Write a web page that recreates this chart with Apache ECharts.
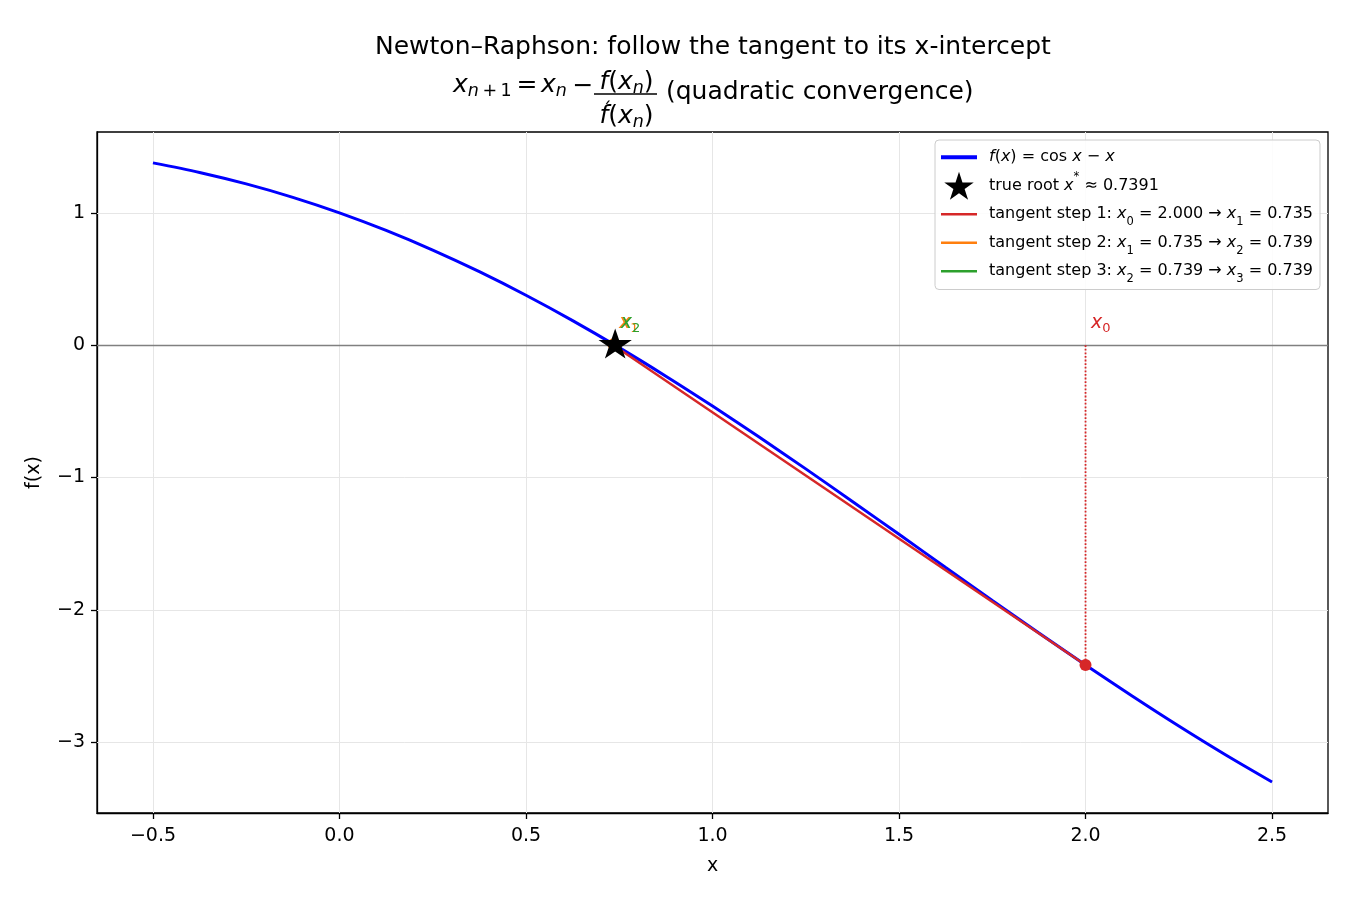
<!DOCTYPE html>
<html><head><meta charset="utf-8">
<script src="https://cdn.jsdelivr.net/npm/echarts@6/dist/echarts.min.js"></script>
<style>html,body{margin:0;padding:0;background:#fff}#c{width:1350px;height:900px}</style>
</head><body><div id="c"></div>
<script>
// ---- data ----
const curveX = [-0.5,-0.375,-0.25,-0.125,0,0.125,0.25,0.375,0.5,0.625,0.75,0.875,1.0,1.125,1.25,1.375,1.5,1.625,1.75,1.875,2.0,2.125,2.25,2.375,2.5];
const curveY = [1.3776,1.3055,1.2189,1.1172,1.0,0.8672,0.7189,0.5555,0.3776,0.1860,-0.0183,-0.2340,-0.4597,-0.6938,-0.9347,-1.1805,-1.4293,-1.6792,-1.9283,-2.1745,-2.4161,-2.6513,-2.8782,-3.0953,-3.3011];
const rootX = 0.7391;
const rootY = 0;
const stepX = [2.000, 0.7345, 0.7391];      // x_n
const stepF = [-2.4161, 0.0076, 0.0000];    // f(x_n)
const stepNext = [0.7345, 0.7391, 0.7391];  // x_{n+1}
const stepNames = [
  'tangent step 1: x0 = 2.000 → x1 = 0.735',
  'tangent step 2: x1 = 0.735 → x2 = 0.739',
  'tangent step 3: x2 = 0.739 → x3 = 0.739'
];
const stepRich = [
  '{t|tangent step 1: }{i|x}{s|0}{t| = 2.000 → }{i|x}{s|1}{t| = 0.735}',
  '{t|tangent step 2: }{i|x}{s|1}{t| = 0.735 → }{i|x}{s|2}{t| = 0.739}',
  '{t|tangent step 3: }{i|x}{s|2}{t| = 0.739 → }{i|x}{s|3}{t| = 0.739}'
];
const stepColors = ['#d62728', '#ff7f0e', '#2ca02c'];
const xTicks = [-0.5, 0, 0.5, 1.0, 1.5, 2.0, 2.5];
const yTicks = [-3, -2, -1, 0, 1];
const curveName = 'f(x) = cos x − x';
const rootName = 'true root x* ≈ 0.7391';

// ---- chart ----
const FONT = 'DejaVu Sans';
const STAR = 'path://M0,-1 L0.2245,-0.309 L0.951,-0.309 L0.363,0.118 L0.588,0.809 L0,0.382 L-0.588,0.809 L-0.363,0.118 L-0.951,-0.309 L-0.2245,-0.309 Z';
const minus = v => (v < 0 ? '−' : '') + Math.abs(v);

const series = [];
series.push({
  name: '_grid', type: 'line', data: [], silent: true, z: 1,
  markLine: {
    silent: true, symbol: ['none', 'none'], label: {show: false}, z: 1,
    lineStyle: {color: '#e6e6e6', width: 1, type: 'solid'},
    animation: false,
    data: xTicks.map(v => ({xAxis: v})).concat(yTicks.map(v => ({yAxis: v})))
  }
});
series.push({
  name: '_zero', type: 'line', data: [], silent: true, z: 2,
  markLine: {
    silent: true, symbol: ['none', 'none'], label: {show: false}, z: 2,
    lineStyle: {color: '#808080', width: 1.3, type: 'solid'},
    animation: false,
    data: [{yAxis: 0}]
  }
});
series.push({
  name: curveName, type: 'line', z: 3, showSymbol: false, symbol: 'none', smooth: 0.3,
  color: '#0000ff', lineStyle: {color: '#0000ff', width: 3},
  data: curveX.map((x, i) => [x, curveY[i]])
});
stepX.forEach((x, i) => {
  series.push({
    name: stepNames[i], type: 'line', z: 4, symbol: 'none', showSymbol: false,
    color: stepColors[i], lineStyle: {color: stepColors[i], width: 2.5},
    data: [[x, stepF[i]], [stepNext[i], 0]]
  });
  series.push({
    name: '_v' + i, type: 'line', z: 5, symbol: 'none', showSymbol: false,
    lineStyle: {color: stepColors[i], width: 1.8, type: 'dotted', opacity: 1},
    data: [[x, 0], [x, stepF[i]]]
  });
  series.push({
    name: '_d' + i, type: 'scatter', z: 6, symbolSize: 12,
    itemStyle: {color: stepColors[i], opacity: 1},
    data: [[x, stepF[i]]]
  });
  series.push({
    name: '_l' + i, type: 'scatter', z: 6, symbolSize: 1, itemStyle: {color: 'rgba(0,0,0,0)', opacity: 1},
    data: [[x, 0]],
    label: {
      show: true, position: [6, -34], color: stepColors[i], opacity: 1,
      formatter: '{i|x}{s|' + i + '}',
      rich: {
        i: {fontFamily: FONT, fontStyle: 'italic', fontSize: 19, lineHeight: 24, color: stepColors[i], opacity: 1},
        s: {fontFamily: FONT, fontSize: 13, lineHeight: 12, verticalAlign: 'bottom', color: stepColors[i], opacity: 1}
      }
    }
  });
});
series.push({
  name: rootName, type: 'scatter', z: 10, symbol: STAR, symbolSize: [33.3, 31.7], symbolOffset: [0, -1.7],
  symbolKeepAspect: true,
  itemStyle: {color: '#000', opacity: 1},
  data: [[rootX, rootY]]
});

const LH = 28.5;
const legendRich = {
  t: {fontFamily: FONT, fontSize: 16, lineHeight: LH, color: '#000'},
  i: {fontFamily: FONT, fontSize: 16, fontStyle: 'italic', lineHeight: LH, color: '#000'},
  s: {fontFamily: FONT, fontSize: 11.5, lineHeight: 19, verticalAlign: 'bottom', color: '#000'},
  sup: {fontFamily: FONT, fontSize: 11.5, lineHeight: 19, verticalAlign: 'top', color: '#000'}
};
const legendFmt = {};
legendFmt[curveName] = '{i|f}{t|(}{i|x}{t|) = cos }{i|x}{t| − }{i|x}';
legendFmt[rootName] = '{t|true root }{i|x}{sup|*}{t| ≈ 0.7391}';
stepNames.forEach((n, i) => legendFmt[n] = stepRich[i]);
const LINE4 = 'path://M0,0L36,0L36,4L0,4Z';
const LINE3 = 'path://M0,0L36,0L36,2.6L0,2.6Z';

const main = {fontFamily: FONT, fontSize: 25, lineHeight: 30, color: '#000'};
const mainI = Object.assign({}, main, {fontStyle: 'italic'});
const sub = {fontFamily: FONT, fontSize: 17.5, lineHeight: 14, verticalAlign: 'bottom', color: '#000'};
const subI = Object.assign({}, sub, {fontStyle: 'italic'});
const eqRich = {t: main, i: mainI, s: sub, si: subI};
function txt(x, y, text, align, extra) {
  return {type: 'text', x: x, y: y, style: Object.assign({text: text, rich: eqRich, fontFamily: FONT, fontSize: 25, fill: '#000',
    textAlign: align, textVerticalAlign: 'middle', align: align, verticalAlign: 'middle'}, extra || {})};
}

const option = {
  animation: false,
  backgroundColor: '#fff',
  title: {
    text: 'Newton–Raphson: follow the tangent to its x-intercept',
    left: 370, top: 30,
    textStyle: {fontFamily: FONT, fontSize: 25, fontWeight: 'normal', color: '#000'}
  },
  grid: {left: 97, right: 22, top: 132, bottom: 87, show: true, borderColor: '#000', borderWidth: 1.3, containLabel: false},
  legend: {
    orient: 'vertical', left: 935, top: 140, z: 100, zlevel: 0,
    data: [{name: curveName, icon: LINE4}, {name: rootName, icon: STAR}].concat(stepNames.map(n => ({name: n, icon: LINE3}))),
    itemWidth: 36, itemHeight: 28, itemGap: 0, symbolKeepAspect: true,
    padding: [3, 7, 4, 6],
    backgroundColor: 'rgba(255,255,255,0.85)', borderColor: '#cccccc', borderWidth: 1, borderRadius: 4,
    textStyle: {fontFamily: FONT, fontSize: 16, lineHeight: LH, color: '#000', padding: [0, 0, 0, 7], rich: legendRich},
    formatter: n => legendFmt[n]
  },
  xAxis: {
    type: 'value', min: -0.65, max: 2.65,
    name: 'x', nameLocation: 'middle', nameGap: 44,
    nameTextStyle: {fontFamily: FONT, fontSize: 19, color: '#000'},
    axisLine: {show: true, onZero: false, lineStyle: {color: '#000', width: 1.3}},
    axisTick: {show: true, length: 6, customValues: xTicks, lineStyle: {color: '#000', width: 1.3}},
    axisLabel: {customValues: xTicks, margin: 14, fontFamily: FONT, fontSize: 19, color: '#000',
      formatter: v => (v < 0 ? '−' : '') + Math.abs(v).toFixed(1)},
    splitLine: {show: false}
  },
  yAxis: {
    type: 'value', min: -3.535, max: 1.611,
    name: 'f(x)', nameLocation: 'middle', nameGap: 53, nameRotate: 90,
    nameTextStyle: {fontFamily: FONT, fontSize: 19, color: '#000'},
    axisLine: {show: true, onZero: false, lineStyle: {color: '#000', width: 1.3}},
    axisTick: {show: true, length: 6, customValues: yTicks, lineStyle: {color: '#000', width: 1.3}},
    axisLabel: {customValues: yTicks, margin: 12, fontFamily: FONT, fontSize: 19, color: '#000', formatter: minus},
    splitLine: {show: false}
  },
  graphic: [
    txt(453, 85.5, '{i|x}{si|n}{s|\u2009+\u20091}', 'left'),
    txt(527, 85.5, '=', 'center'),
    txt(541, 85.5, '{i|x}{si|n}', 'left'),
    txt(583, 86, '−', 'center'),
    txt(626.5, 82, '{i|f}{t|(}{i|x}{si|n}{t|)}', 'center'),
    {type: 'line', shape: {x1: 594, y1: 94, x2: 657, y2: 94}, style: {stroke: '#000', lineWidth: 1.5}},
    txt(626.5, 116.5, '{i|f}{t|(}{i|x}{si|n}{t|)}', 'center'),
    {type: 'text', x: 607, y: 110, z: 100, style: {text: '\u00B4', fontFamily: FONT, fontSize: 18, fill: '#000',
      textAlign: 'center', textVerticalAlign: 'middle', align: 'center', verticalAlign: 'middle'}},
    {type: 'text', x: 666, y: 92, style: {text: '(quadratic convergence)', fontFamily: FONT, fontSize: 25, fill: '#000',
      textAlign: 'left', textVerticalAlign: 'middle', align: 'left', verticalAlign: 'middle'}}
  ],
  series: series
};
const chart = echarts.init(document.getElementById('c'), null, {renderer: 'canvas'});
chart.setOption(option);
</script></body></html>
